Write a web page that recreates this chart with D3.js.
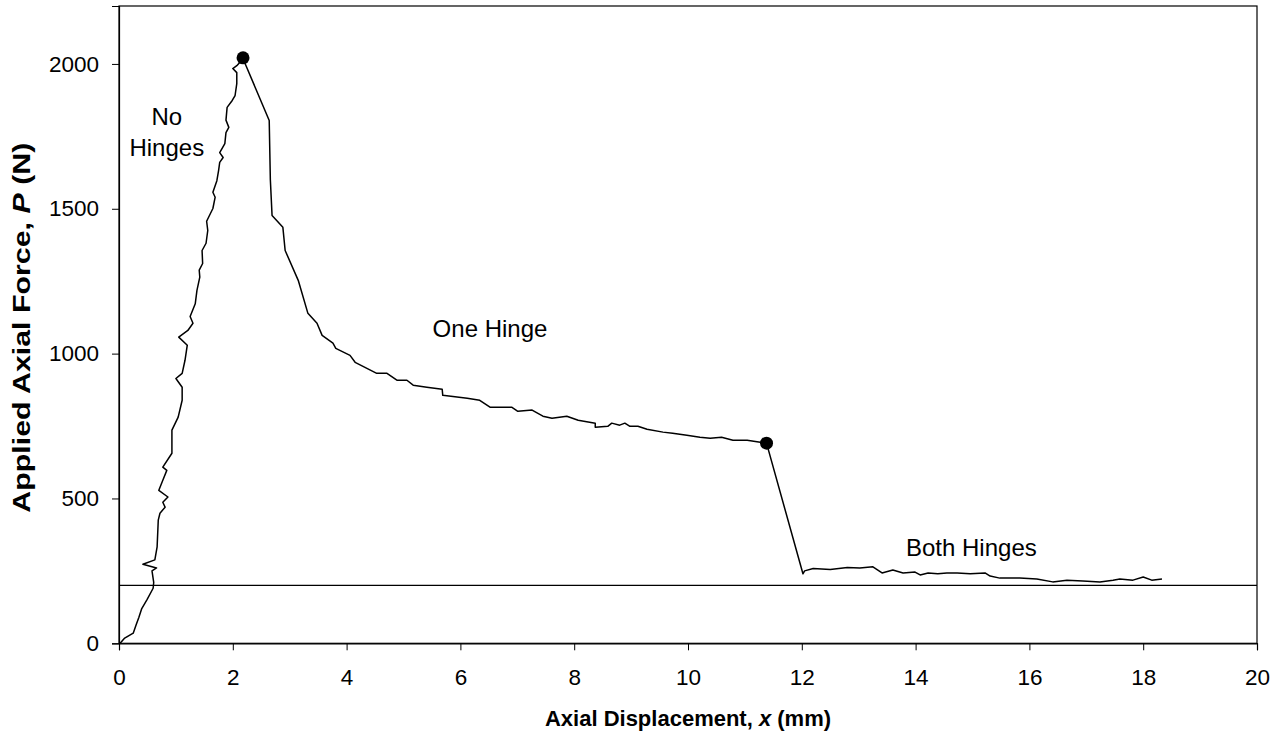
<!DOCTYPE html>
<html><head><meta charset="utf-8">
<script src="https://cdn.jsdelivr.net/npm/d3@7"></script>
<style>body{margin:0;background:#fff}svg{display:block}text{font-family:"Liberation Sans",Arial,sans-serif}</style>
</head><body><svg id="c" width="1282" height="736"></svg>
<script>
const dispX = [0.02,0.1,0.25,0.3,0.35,0.4,0.49,0.6,0.61,0.58,0.66,0.42,0.63,0.67,0.69,0.72,0.81,0.77,0.86,0.70,0.77,0.84,0.77,0.93,0.93,1.04,1.11,1.11,1.0,1.11,1.16,1.20,1.05,1.21,1.30,1.25,1.34,1.37,1.42,1.41,1.47,1.46,1.53,1.56,1.54,1.65,1.69,1.65,1.72,1.75,1.77,1.83,1.77,1.86,1.88,1.93,1.88,1.90,1.99,2.04,2.07,2.07,2.0,2.07,2.18,
2.64,2.66,2.69,2.88,2.92,3.15,3.32,3.48,3.57,3.76,3.81,4.06,4.15,4.53,4.71,4.89,5.06,5.17,5.41,5.68,5.69,6.12,6.34,6.52,6.70,6.9,7.01,7.26,7.45,7.61,7.87,8.07,8.37,8.37,8.59,8.66,8.8,8.89,8.98,9.12,9.28,9.56,9.73,9.98,10.21,10.39,10.59,10.79,11.04,11.27,11.38,
12.02,12.05,12.2,12.5,12.8,13.02,13.25,13.41,13.60,13.78,13.99,14.08,14.22,14.39,14.55,14.73,14.96,15.22,15.31,15.48,15.83,16.13,16.41,16.66,16.94,17.24,17.47,17.59,17.82,18.0,18.15,18.33];
const force = [0,18,35,63,90,120,150,190,210,250,260,273,288,333,425,449,470,487,505,528,563,597,608,656,736,781,839,884,914,932,977,1029,1057,1080,1105,1128,1172,1218,1264,1288,1311,1356,1381,1425,1457,1501,1540,1557,1597,1632,1660,1677,1694,1725,1763,1781,1806,1850,1874,1891,1932,1970,1984,1994,2018,
1805,1600,1477,1436,1356,1253,1139,1105,1063,1036,1018,994,970,932,932,908,908,891,884,877,856,846,839,815,815,815,801,805,784,777,784,770,760,746,749,760,753,760,749,749,739,729,725,718,711,708,711,701,701,694,691,
240,250,258,255,262,260,264,243,253,243,246,236,243,240,243,243,240,243,232,225,225,222,212,218,215,212,218,222,218,229,218,222];
const markX = [2.18, 11.38];
const markY = [2021, 691];
const refForce = 200;
const xTicks = [0,2,4,6,8,10,12,14,16,18,20];
const yTicks = [0,500,1000,1500,2000];
const labels = [{t:["No","Hinges"],x:0.84,y:1790},{t:["One Hinge"],x:6.52,y:1058},{t:["Both Hinges"],x:14.98,y:300}];

const svg = d3.select("#c");
const L=119,R=1257,T=6,B=643.3;
const x = d3.scaleLinear().domain([0,20]).range([L,R]);
const y = d3.scaleLinear().domain([0,2200]).range([B,T]);

svg.append("rect").attr("x",L).attr("y",T).attr("width",R-L).attr("height",B-T).attr("fill","none").attr("stroke","#000").attr("stroke-width",1.2);

const xa = svg.append("g").attr("transform",`translate(0,${B})`).call(d3.axisBottom(x).tickValues(xTicks).tickFormat(d3.format("d")).tickSize(7).tickPadding(19));
const ya = svg.append("g").attr("transform",`translate(${L},0)`).call(d3.axisLeft(y).tickValues(yTicks).tickFormat(d3.format("d")).tickSize(7).tickPadding(13));
[xa,ya].forEach(a=>{a.select(".domain").attr("stroke","#000").attr("stroke-width",1.2);a.selectAll("line").attr("stroke","#000");a.selectAll("text").attr("font-size",22.5).attr("fill","#000").attr("font-family","Liberation Sans, Arial, sans-serif");});

svg.append("line").attr("x1",L).attr("x2",R).attr("y1",y(refForce)).attr("y2",y(refForce)).attr("stroke","#000").attr("stroke-width",1.2);

const pts = dispX.map((d,i)=>[d,force[i]]);
svg.append("path").datum(pts).attr("d",d3.line().x(d=>x(d[0])).y(d=>y(d[1]))).attr("fill","none").attr("stroke","#000").attr("stroke-width",1.5).attr("stroke-linejoin","round");

svg.selectAll("circle.m").data(markX).enter().append("circle").attr("cx",d=>x(d)).attr("cy",(d,i)=>y(markY[i])).attr("r",6.5).attr("fill","#000");

labels.forEach(l=>{
  const t = svg.append("text").attr("text-anchor","middle").attr("font-size",24).attr("x",x(l.x)).attr("y",y(l.y));
  l.t.forEach((s,i)=>t.append("tspan").attr("x",x(l.x)).attr("dy",i?31:0).text(s));
});

const xt = svg.append("text").attr("text-anchor","middle").attr("font-size",22).attr("font-weight","bold").attr("x",(L+R)/2).attr("y",726);
xt.append("tspan").text("Axial Displacement, ");
xt.append("tspan").attr("font-style","italic").text("x");
xt.append("tspan").text(" (mm)");
const yt = svg.append("text").attr("text-anchor","middle").attr("font-size",23).attr("font-weight","bold")
  .attr("textLength",370).attr("lengthAdjust","spacingAndGlyphs")
  .attr("transform",`translate(30,${(T+B)/2+3}) rotate(-90)`);
yt.append("tspan").text("Applied Axial Force, ");
yt.append("tspan").attr("font-style","italic").text("P");
yt.append("tspan").text(" (N)");
</script></body></html>
